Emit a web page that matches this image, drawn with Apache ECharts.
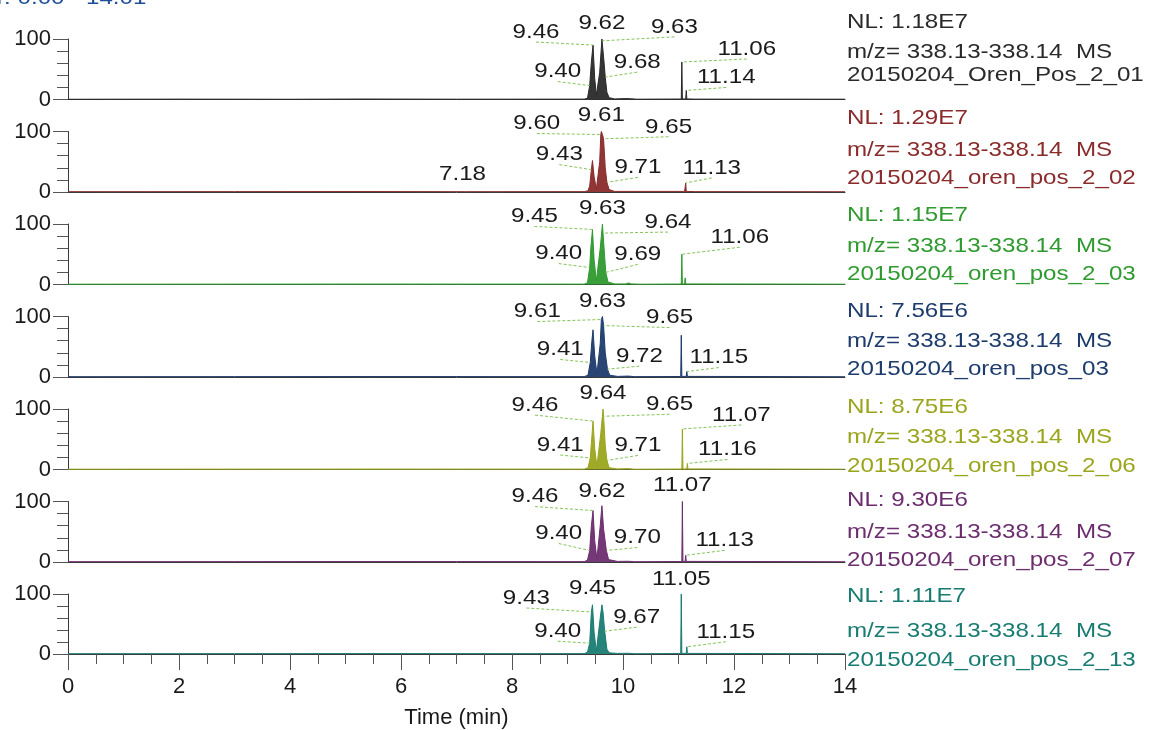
<!DOCTYPE html>
<html>
<head>
<meta charset="utf-8">
<script src="https://cdn.jsdelivr.net/npm/echarts@6/dist/echarts.min.js"></script>
<style>
  html, body { margin: 0; padding: 0; background: #ffffff; }
  #chart { width: 1155px; height: 730px; }
</style>
</head>
<body>
<div id="chart"></div>
<script>
// ---- Data -------------------------------------------------------------
// Retention-time axis (minutes)
const timeMin = 0;
const timeMax = 14;
const timeStep = 2;
const rangeHeader = 'RT: 0.00 - 14.01';

// Extracted-ion chromatograms: [retention time (min), relative abundance (%)]
const trace01 = [[0,0.4],[2,0.6],[4,0.4],[5.3,0.8],[7,0.5],[9.30,0.6],[9.36,2],[9.40,23],[9.43,62],[9.46,90],[9.49,35],[9.52,7],[9.55,6],[9.58,45],[9.62,100],[9.63,97],[9.66,60],[9.68,37],[9.71,12],[9.75,3],[9.85,1],[10.05,1.5],[10.15,1.2],[10.25,0.5],[11.05,0.8],[11.06,62],[11.07,1],[11.13,1],[11.14,15],[11.15,1],[11.3,0.6],[14,0.5]];
const trace02 = [[0,0.5],[3,0.6],[5.3,0.7],[7.15,0.5],[7.18,2],[7.21,0.5],[9.30,0.6],[9.37,2],[9.40,10],[9.43,37],[9.45,52],[9.48,25],[9.52,5],[9.55,8],[9.58,50],[9.60,95],[9.61,100],[9.63,95],[9.65,88],[9.68,40],[9.71,16],[9.75,4],[9.85,1],[11.11,1],[11.13,15],[11.14,1],[11.3,0.6],[14,0.5]];
const trace03 = [[0,0.5],[3,0.6],[5.3,0.7],[9.30,0.6],[9.36,3],[9.40,28],[9.42,60],[9.45,91],[9.48,40],[9.52,6],[9.55,8],[9.59,60],[9.63,100],[9.64,85],[9.67,45],[9.69,20],[9.73,4],[9.85,1],[10.05,1],[10.10,2.5],[10.15,1],[10.3,0.5],[11.05,0.8],[11.06,50],[11.07,1],[11.11,1],[11.12,11],[11.13,1],[14,0.5]];
const trace04 = [[0,0.5],[3,0.6],[5.3,0.7],[9.30,0.6],[9.37,3],[9.41,24],[9.44,60],[9.46,78],[9.49,35],[9.53,5],[9.56,8],[9.59,55],[9.61,95],[9.63,100],[9.65,85],[9.68,40],[9.72,13],[9.76,3],[9.9,1],[10.1,1.5],[10.2,0.6],[11.04,0.8],[11.05,69],[11.06,1],[11.14,1],[11.15,9],[11.16,1],[14,0.5]];
const trace05 = [[0,0.5],[3,0.6],[5.3,0.7],[9.30,0.6],[9.37,3],[9.41,19],[9.44,55],[9.46,80],[9.49,35],[9.53,5],[9.56,8],[9.60,60],[9.64,100],[9.65,88],[9.68,40],[9.71,15],[9.75,3],[9.9,1],[10.1,1.5],[10.2,0.5],[11.06,0.8],[11.07,67],[11.08,1],[11.15,1],[11.16,10],[11.17,1],[14,0.5]];
const trace06 = [[0,0.5],[3,0.6],[5.3,0.7],[9.30,0.6],[9.36,3],[9.40,19],[9.43,60],[9.46,85],[9.49,35],[9.53,5],[9.56,8],[9.59,60],[9.62,93],[9.65,55],[9.70,19],[9.74,4],[9.9,1],[10.1,1.2],[10.2,0.5],[11.06,0.8],[11.07,100],[11.08,1],[11.12,1],[11.13,11],[11.14,1],[14,0.5]];
const trace07 = [[0,0.5],[3,0.6],[5.3,0.7],[9.30,0.6],[9.36,3],[9.40,18],[9.43,70],[9.45,82],[9.48,35],[9.52,5],[9.55,8],[9.59,60],[9.62,82],[9.64,70],[9.67,38],[9.71,8],[9.75,2],[9.9,1],[10.1,1.2],[10.2,0.5],[11.04,0.8],[11.05,100],[11.06,1],[11.14,1],[11.15,12],[11.16,1],[14,0.5]];

// Annotated retention times: [retention time (min), relative abundance (%)]
const peaks01 = [[9.40,23],[9.46,90],[9.62,100],[9.63,97],[9.68,37],[11.06,62],[11.14,15]];
const peaks02 = [[7.18,2],[9.43,37],[9.60,95],[9.61,100],[9.65,88],[9.71,16],[11.13,15]];
const peaks03 = [[9.40,28],[9.45,91],[9.63,100],[9.64,85],[9.69,20],[11.06,50]];
const peaks04 = [[9.41,24],[9.61,95],[9.63,100],[9.65,85],[9.72,13],[11.15,9]];
const peaks05 = [[9.41,19],[9.46,80],[9.64,100],[9.65,88],[9.71,15],[11.07,67],[11.16,10]];
const peaks06 = [[9.40,19],[9.46,85],[9.62,93],[9.70,19],[11.07,100],[11.13,11]];
const peaks07 = [[9.40,18],[9.43,70],[9.45,82],[9.67,38],[11.05,100],[11.15,12]];

// Normalisation levels, scan filter and raw-file names
const nlValues = ['1.18E7', '1.29E7', '1.15E7', '7.56E6', '8.75E6', '9.30E6', '1.11E7'];
const massRange = 'm/z= 338.13-338.14  MS';
const fileNames = [
  '20150204_Oren_Pos_2_01',
  '20150204_oren_pos_2_02',
  '20150204_oren_pos_2_03',
  '20150204_oren_pos_03',
  '20150204_oren_pos_2_06',
  '20150204_oren_pos_2_07',
  '20150204_oren_pos_2_13'
];

// ---- Layout & style ---------------------------------------------------
const traces = [trace01, trace02, trace03, trace04, trace05, trace06, trace07];
const peakSets = [peaks01, peaks02, peaks03, peaks04, peaks05, peaks06, peaks07];
const traceColors = ['#2a2a2a', '#8a2b2b', '#2f9a2f', '#1d3b6c', '#9aa51d', '#6c2d6e', '#197c72'];

const FONT = '"Liberation Sans", Arial, sans-serif';
const STRETCH = 1.15;            // text in this layout is set slightly wide
const plotLeft = 68;
const plotWidth = 777;
const panelTop0 = 39;
const panelPitch = 92.5;
const panelHeight = 60.5;

// label placement relative to the annotated point, in pixels [dx, dy]
const labelOffsets = [
  [[-32,-14],[-57,-13],[0,-16],[72,-14],[32,-15],[65,-13],[40,-13]],
  [[-4,-17],[-32,-15],[-64,-11],[0,-16],[65,-12],[31,-15],[26,-15]],
  [[-31,-14],[-58,-13],[0,-16],[65,-11],[32,-18],[58,-17]],
  [[-30,-13],[-64,-8],[0,-15],[66,-8],[32,-13],[32,-14]],
  [[-30,-13],[-58,-16],[0,-16],[66,-12],[31,-15],[59,-14],[40,-14]],
  [[-31,-17],[-58,-14],[0,-15],[31,-13],[0,-16],[39,-15]],
  [[-32,-12],[-65,-14],[0,-17],[32,-14],[0,-15],[39,-15]]
];

// vertical centres of the three header lines beside each panel
const headerRows = [
  [22, 52, 75], [118, 150, 178], [215, 246, 274], [311, 341, 369],
  [407, 437, 466], [500, 532, 560], [596, 631, 660]
];

const nPanels = traces.length;
const grids = [], xAxes = [], yAxes = [], series = [], graphics = [];

for (let i = 0; i < nPanels; i++) {
  const last = i === nPanels - 1;
  grids.push({ left: plotLeft, width: plotWidth, top: panelTop0 + panelPitch * i, height: panelHeight });

  xAxes.push({
    type: 'value', gridIndex: i, min: timeMin, max: timeMax, interval: timeStep,
    axisLine: { show: true, onZero: false, lineStyle: { color: '#3a3a3a', width: 1 } },
    axisTick: { show: last, length: 16, lineStyle: { color: '#555' } },
    minorTick: { show: last, splitNumber: 4, length: 10, lineStyle: { color: '#555' } },
    axisLabel: { show: last, fontSize: 22, fontFamily: FONT, color: '#1a1a1a', margin: 22 },
    splitLine: { show: false },
    name: last ? 'Time (min)' : '',
    nameLocation: 'middle', nameGap: 53,
    nameTextStyle: { fontSize: 22, fontFamily: FONT, color: '#1a1a1a' }
  });

  yAxes.push({
    type: 'value', gridIndex: i, min: 0, max: 100, interval: 100,
    axisLine: { show: true, lineStyle: { color: '#3a3a3a', width: 1 } },
    axisTick: { show: true, length: 15, lineStyle: { color: '#555' } },
    minorTick: { show: true, splitNumber: 5, length: 11, lineStyle: { color: '#555' } },
    axisLabel: { fontSize: 22, fontFamily: FONT, color: '#1a1a1a', margin: 17 },
    splitLine: { show: false }
  });

  series.push({
    type: 'line', xAxisIndex: i, yAxisIndex: i, data: traces[i],
    showSymbol: false, smooth: false, animation: false,
    lineStyle: { color: traceColors[i], width: 1 },
    areaStyle: { color: traceColors[i], opacity: 0.95 },
    z: 3
  });

  const offsets = labelOffsets[i];
  series.push({
    type: 'custom', xAxisIndex: i, yAxisIndex: i, data: peakSets[i],
    encode: { x: 0, y: 1 }, clip: false, animation: false, z: 5,
    renderItem: function (params, api) {
      const t = api.value(0);
      const p = api.coord([t, api.value(1)]);
      const off = offsets[params.dataIndex];
      const cx = p[0] + off[0];
      const cy = p[1] + off[1];
      const kids = [];
      if (Math.abs(off[0]) > 10) {
        kids.push({
          type: 'line',
          shape: { x1: cx, y1: cy + 10, x2: p[0], y2: p[1] },
          style: { stroke: '#86c45a', lineWidth: 1, lineDash: [3, 2] }
        });
      }
      kids.push({
        type: 'text', x: cx, y: cy, scaleX: STRETCH,
        style: {
          x: 0, y: 0, text: t.toFixed(2), fill: '#1a1a1a',
          font: '21px ' + FONT, align: 'center', verticalAlign: 'middle'
        }
      });
      return { type: 'group', children: kids };
    }
  });

  const rows = headerRows[i];
  const lines = ['NL: ' + nlValues[i], massRange, fileNames[i]];
  for (let k = 0; k < 3; k++) {
    graphics.push({
      type: 'text', x: 847, y: rows[k], scaleX: STRETCH, silent: true,
      style: {
        x: 0, y: 0, text: lines[k], fill: traceColors[i],
        font: '21px ' + FONT, align: 'left', verticalAlign: 'middle'
      }
    });
  }
}

// run header along the top edge of the page
graphics.push({
  type: 'text', x: -25, y: -2, scaleX: STRETCH, silent: true,
  style: { x: 0, y: 0, text: rangeHeader, fill: '#1f4f9a', font: '21px ' + FONT, align: 'left', verticalAlign: 'middle' }
});

const chart = echarts.init(document.getElementById('chart'), null, { renderer: 'canvas' });
chart.setOption({
  backgroundColor: '#ffffff',
  animation: false,
  grid: grids,
  xAxis: xAxes,
  yAxis: yAxes,
  series: series,
  graphic: graphics
});
</script>
</body>
</html>
